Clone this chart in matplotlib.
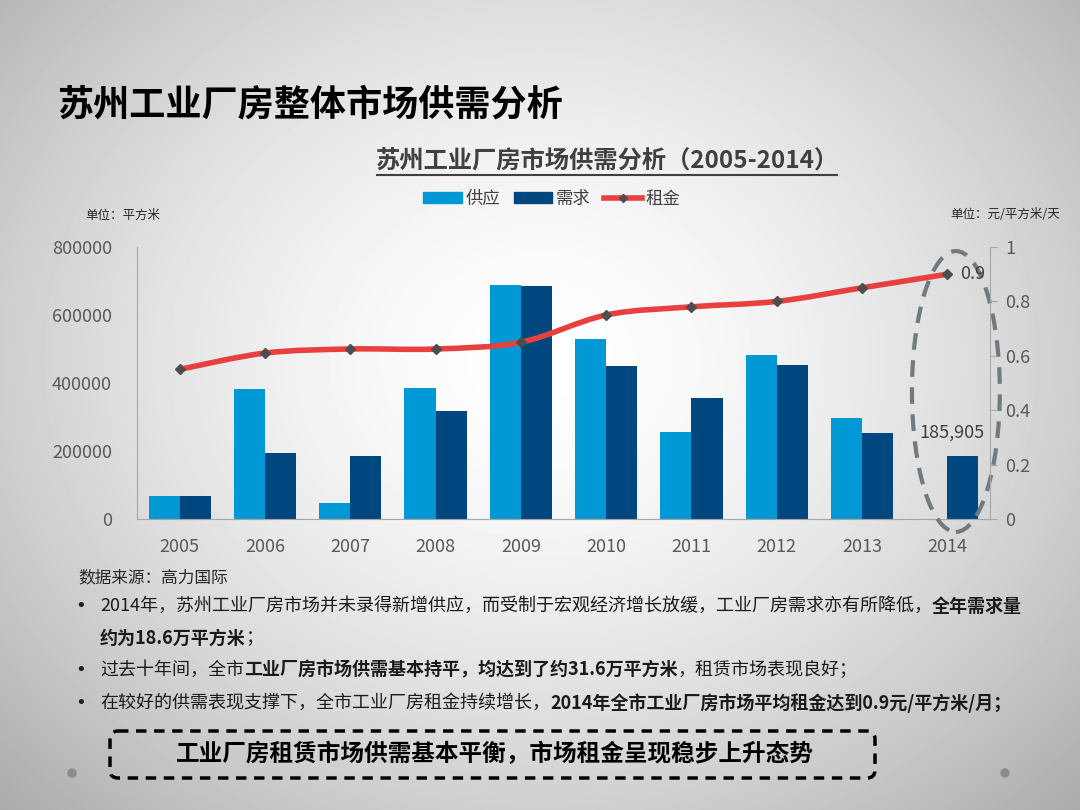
import numpy as np
import matplotlib.pyplot as plt
from matplotlib.patches import Ellipse, FancyBboxPatch, Patch, Circle
from matplotlib.path import Path
from matplotlib.patches import PathPatch
from matplotlib.lines import Line2D

plt.rcParams['font.family'] = ['Noto Sans CJK SC', 'DejaVu Sans']

years = ["2005", "2006", "2007", "2008", "2009", "2010", "2011", "2012", "2013", "2014"]
supply = [67000, 382000, 47000, 385000, 688000, 529000, 256000, 482000, 297000, 0]
demand = [67000, 194000, 185000, 318000, 685000, 450000, 356000, 453000, 253000, 185905]
rent = [0.55, 0.61, 0.625, 0.625, 0.65, 0.75, 0.78, 0.80, 0.85, 0.90]

C_SUP = "#0099d6"
C_DEM = "#00477f"
C_RENT = "#e8403f"
C_TXT = "#595959"

W, H = 1080, 810
fig = plt.figure(figsize=(10.8, 8.1), dpi=100)

# gray radial background
bg = fig.add_axes([0, 0, 1, 1])
yy, xx = np.mgrid[0:H, 0:W]
r = np.sqrt(((xx - 540) / 620.0) ** 2 + ((yy - 360) / 520.0) ** 2)
shade = np.clip(1.0 - 0.24 * r ** 1.6, 0, 1)
bg.imshow(shade, cmap="gray", vmin=0, vmax=1, extent=[0, W, H, 0], aspect="auto")
bg.set_xlim(0, W)
bg.set_ylim(H, 0)
bg.axis("off")

def px(x, y):
    return x / W, 1 - y / H

# page title
fig.text(*px(57, 105), "苏州工业厂房整体市场供需分析", fontsize=26, fontweight="bold",
         color="black", va="center", ha="left")

# chart title with underline
fig.text(*px(607, 162), "苏州工业厂房市场供需分析（2005-2014）", fontsize=17.5,
         fontweight="bold", color="#404040", ha="center", va="center")
bg.plot([377, 837], [175, 175], color="#404040", lw=1.5)

fig.text(*px(85, 215), "单位：平方米", fontsize=9, color="#262626", va="center")
fig.text(*px(1060, 215), "单位：元/平方米/天", fontsize=9, color="#262626", va="center", ha="right")

# main axes
l, b = px(137, 519)
ax = fig.add_axes([l, b, (990 - 137) / W, (519 - 247) / H])
ax.patch.set_alpha(0)
x = np.arange(len(years))
bw = 0.365
ax.bar(x - bw / 2, supply, bw, color=C_SUP, zorder=2)
ax.bar(x + bw / 2, demand, bw, color=C_DEM, zorder=2)
ax.set_xlim(-0.5, 9.5)
ax.set_ylim(0, 800000)
ax.set_yticks([0, 200000, 400000, 600000, 800000])
ax.set_yticklabels(["0", "200000", "400000", "600000", "800000"])
ax.set_xticks(x)
ax.set_xticklabels(years)
ax.tick_params(axis="both", length=0, labelsize=13, labelcolor=C_TXT)
ax.tick_params(axis="x", pad=14)
ax.tick_params(axis="y", pad=18)
for s in ["top", "right"]:
    ax.spines[s].set_visible(False)
for s in ["left", "bottom"]:
    ax.spines[s].set_color("#a6a6a6")

ax2 = ax.twinx()
ax2.set_ylim(0, 1)
ax2.set_yticks([0, 0.2, 0.4, 0.6, 0.8, 1.0])
ax2.set_yticklabels(["0", "0.2", "0.4", "0.6", "0.8", "1"])
ax2.tick_params(axis="y", length=5, color="#a6a6a6", labelsize=13, labelcolor=C_TXT, pad=6)
for s in ["top", "left", "bottom"]:
    ax2.spines[s].set_visible(False)
ax2.spines["right"].set_color("#a6a6a6")

# smoothed rent line (Bezier curve through the points)
pts = np.column_stack([x, rent])
verts = [tuple(pts[0])]
codes = [Path.MOVETO]
for i in range(len(pts) - 1):
    p0 = pts[max(i - 1, 0)]
    p1 = pts[i]
    p2 = pts[i + 1]
    p3 = pts[min(i + 2, len(pts) - 1)]
    c1 = p1 + (p2 - p0) / 6.0
    c2 = p2 - (p3 - p1) / 6.0
    verts += [tuple(c1), tuple(c2), tuple(p2)]
    codes += [Path.CURVE4] * 3
ax2.add_patch(PathPatch(Path(verts, codes), facecolor="none", edgecolor=C_RENT, lw=4, zorder=3,
                        capstyle="round"))
ax2.plot(x, rent, linestyle="none", marker="D", markersize=5, color="#4d4d4d", zorder=4)

ax2.annotate("0.9", (9, rent[-1]), xytext=(9, 0), textcoords="offset points",
             fontsize=13, color="#404040", va="center", ha="left")
ax.annotate("185,905", (9, demand[-1]), xytext=(3, 10), textcoords="offset points",
            fontsize=13, color="#404040", va="bottom", ha="center")

ell = Ellipse((9.1, 375000), 1.03, 826000, facecolor="none", edgecolor="#6e7b81",
              lw=3, linestyle=(0, (4, 2.5)), clip_on=False, zorder=5)
ax.add_patch(ell)

# legend
handles = [Patch(color=C_SUP, label="供应"), Patch(color=C_DEM, label="需求"),
           Line2D([0], [0], color=C_RENT, lw=4, marker="D", markersize=4,
                  markerfacecolor="#4d4d4d", markeredgecolor="#4d4d4d", label="租金")]
fig.legend(handles=handles, loc="center", bbox_to_anchor=px(552, 199), ncol=3, frameon=False,
           fontsize=12.5, labelcolor="#404040", handlelength=2.2, handleheight=0.6,
           columnspacing=0.8, handletextpad=0.2)

# text block with mixed weight
fig.text(*px(78, 578), "数据来源：高力国际", fontsize=12, color="#262626", va="center")

renderer = fig.canvas.get_renderer()

def write_line(xp, yp, segs, size=13):
    cur = xp
    for s, bold in segs:
        tt = fig.text(cur / W, 1 - yp / H, s, fontsize=size, color="#1a1a1a",
                      fontweight="bold" if bold else "normal", va="center", ha="left")
        bb = tt.get_window_extent(renderer=renderer)
        cur += bb.width

bullet_lines = [
    (606, True, [("2014年，苏州工业厂房市场并未录得新增供应，而受制于宏观经济增长放缓，工业厂房需求亦有所降低，", False),
                 ("全年需求量", True)]),
    (638, False, [("约为18.6万平方米", True), ("；", False)]),
    (670, True, [("过去十年间，全市", False), ("工业厂房市场供需基本持平，均达到了约31.6万平方米", True),
                 ("，租赁市场表现良好；", False)]),
    (703, True, [("在较好的供需表现支撑下，全市工业厂房租金持续增长，", False),
                 ("2014年全市工业厂房市场平均租金达到0.9元/平方米/月；", True)]),
]
for yp, has_bullet, segs in bullet_lines:
    if has_bullet:
        fig.text(*px(81, yp), "•", fontsize=13, family="DejaVu Sans", color="#1a1a1a",
                 va="center", ha="center")
    write_line(100, yp, segs)

# bottom dashed box
box = FancyBboxPatch((110, 731), 765, 47, boxstyle="round,pad=0,rounding_size=8",
                     facecolor="none", edgecolor="black", lw=2.5, linestyle=(0, (3, 2.2)))
bg.add_patch(box)
fig.text(*px(495, 754), "工业厂房租赁市场供需基本平衡，市场租金呈现稳步上升态势", fontsize=17,
         fontweight="bold", color="black", ha="center", va="center")

bg.add_patch(Circle((72, 773), 4, color="#8c8c8c"))
bg.add_patch(Circle((1005, 773), 4, color="#8c8c8c"))

fig.savefig("out.png", dpi=100)
